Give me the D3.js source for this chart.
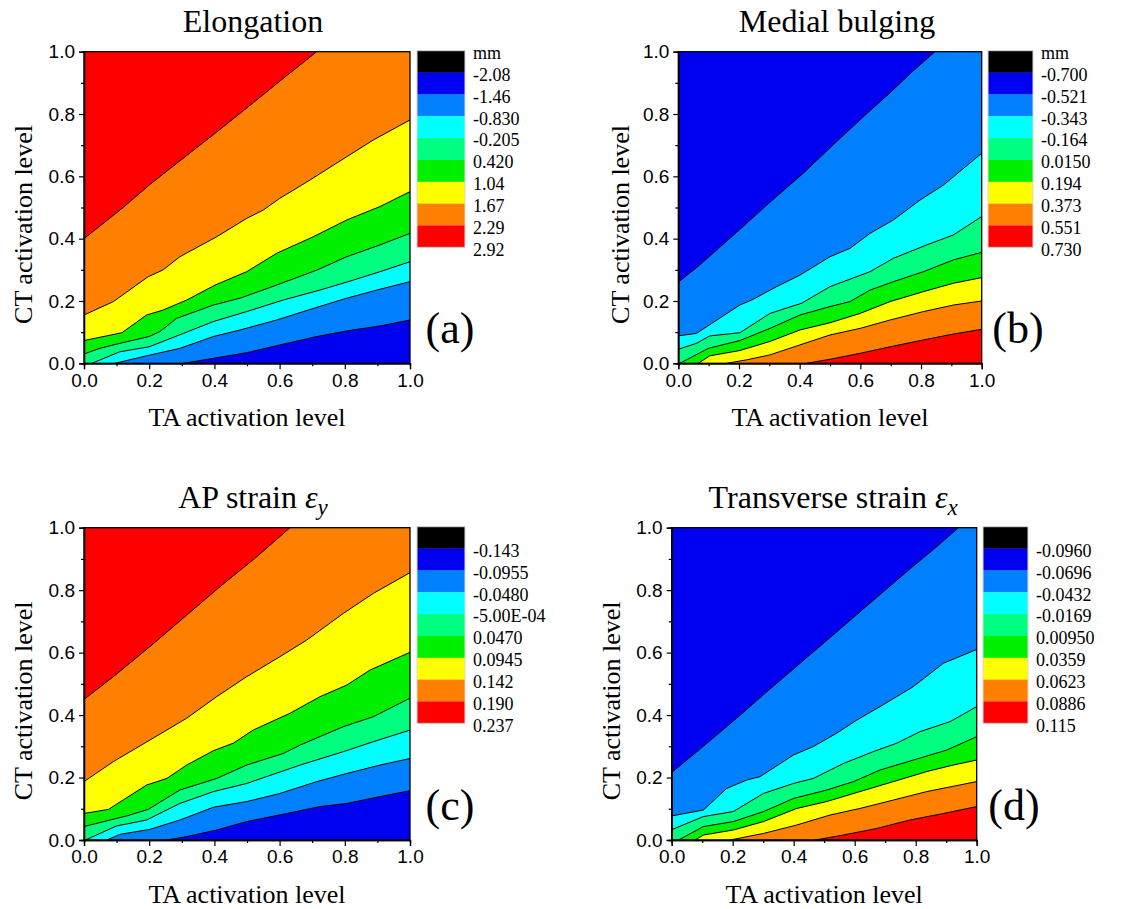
<!DOCTYPE html>
<html>
<head>
<meta charset="utf-8">
<script src="https://cdn.jsdelivr.net/npm/d3@7"></script>
<style>
  body { margin: 0; background: #fff; }
  svg { display: block; }
</style>
</head>
<body>
<svg id="chart" width="1134" height="909"></svg>
<script>
// contour boundaries, [TA, CT] pairs, listed from top-left band to bottom-right band
const elongationLines = [
  [[0,0.40],[0.12,0.50],[0.20,0.572],[0.315,0.667],[0.407,0.742],[0.50,0.82],[0.60,0.905],[0.714,1]],
  [[0,0.155],[0.09,0.198],[0.197,0.278],[0.243,0.30],[0.294,0.342],[0.407,0.406],[0.499,0.465],[0.55,0.492],[0.60,0.529],[0.693,0.588],[0.806,0.663],[0.888,0.717],[1,0.781]],
  [[0,0.073],[0.116,0.098],[0.192,0.155],[0.243,0.171],[0.315,0.203],[0.402,0.251],[0.499,0.294],[0.591,0.353],[0.703,0.406],[0.806,0.46],[0.908,0.503],[1,0.551]],
  [[0,0.030],[0.049,0.048],[0.11,0.064],[0.2,0.086],[0.233,0.102],[0.284,0.144],[0.397,0.187],[0.479,0.209],[0.591,0.251],[0.714,0.299],[0.806,0.342],[0.908,0.38],[1,0.417]],
  [[0.024,0],[0.11,0.037],[0.2,0.053],[0.305,0.096],[0.397,0.134],[0.499,0.166],[0.611,0.203],[0.724,0.235],[0.826,0.267],[0.908,0.294],[1,0.326]],
  [[0.095,0],[0.192,0.024],[0.294,0.048],[0.397,0.086],[0.479,0.107],[0.591,0.139],[0.703,0.176],[0.806,0.209],[0.898,0.235],[1,0.262]],
  [[0.305,0],[0.397,0.016],[0.499,0.034],[0.601,0.059],[0.714,0.086],[0.806,0.104],[0.908,0.12],[1,0.139]]
];
const bulgingLines = [
  [[0,0.26],[0.07,0.315],[0.192,0.42],[0.30,0.515],[0.412,0.61],[0.52,0.71],[0.62,0.80],[0.70,0.87],[0.77,0.935],[0.846,1]],
  [[0,0.088],[0.06,0.096],[0.11,0.128],[0.203,0.187],[0.242,0.203],[0.324,0.246],[0.401,0.283],[0.5,0.342],[0.566,0.369],[0.632,0.417],[0.709,0.46],[0.797,0.524],[0.874,0.572],[1,0.674]],
  [[0,0.045],[0.06,0.064],[0.104,0.088],[0.203,0.098],[0.302,0.16],[0.407,0.193],[0.5,0.246],[0.632,0.294],[0.709,0.337],[0.819,0.38],[0.907,0.412],[1,0.471]],
  [[0.005,0],[0.099,0.048],[0.203,0.073],[0.302,0.112],[0.401,0.155],[0.5,0.182],[0.566,0.198],[0.632,0.235],[0.709,0.262],[0.808,0.294],[0.907,0.332],[1,0.356]],
  [[0.066,0],[0.104,0.024],[0.203,0.041],[0.302,0.07],[0.401,0.107],[0.5,0.13],[0.599,0.16],[0.698,0.198],[0.808,0.23],[0.907,0.257],[1,0.275]],
  [[0.159,0],[0.225,0.011],[0.302,0.027],[0.401,0.059],[0.5,0.091],[0.599,0.112],[0.698,0.139],[0.808,0.166],[0.907,0.187],[1,0.2]],
  [[0.423,0],[0.5,0.013],[0.599,0.032],[0.698,0.053],[0.808,0.075],[0.907,0.094],[1,0.109]]
];
const apStrainLines = [
  [[0,0.45],[0.09,0.523],[0.202,0.619],[0.315,0.72],[0.417,0.811],[0.53,0.907],[0.632,1]],
  [[0,0.187],[0.09,0.251],[0.202,0.32],[0.315,0.39],[0.407,0.459],[0.499,0.523],[0.601,0.587],[0.683,0.64],[0.796,0.726],[0.888,0.79],[1,0.856]],
  [[0,0.085],[0.075,0.098],[0.12,0.128],[0.192,0.176],[0.254,0.197],[0.315,0.24],[0.397,0.286],[0.458,0.31],[0.519,0.352],[0.632,0.406],[0.724,0.459],[0.806,0.496],[0.877,0.544],[1,0.601]],
  [[0,0.043],[0.08,0.064],[0.131,0.077],[0.197,0.098],[0.294,0.16],[0.407,0.197],[0.499,0.24],[0.611,0.277],[0.663,0.304],[0.796,0.363],[0.888,0.395],[1,0.454]],
  [[0.004,0],[0.1,0.045],[0.192,0.064],[0.294,0.117],[0.397,0.155],[0.499,0.181],[0.56,0.203],[0.663,0.24],[0.796,0.283],[0.888,0.315],[1,0.352]],
  [[0.07,0],[0.11,0.018],[0.202,0.034],[0.294,0.064],[0.397,0.105],[0.499,0.123],[0.601,0.149],[0.714,0.187],[0.806,0.213],[0.908,0.24],[1,0.261]],
  [[0.254,0],[0.315,0.011],[0.407,0.032],[0.499,0.059],[0.622,0.085],[0.724,0.107],[0.806,0.117],[0.908,0.139],[1,0.158]]
];
const transStrainLines = [
  [[0,0.216],[0.104,0.30],[0.213,0.39],[0.311,0.474],[0.421,0.566],[0.519,0.648],[0.607,0.722],[0.694,0.795],[0.781,0.868],[0.87,0.94],[0.94,1]],
  [[0,0.077],[0.104,0.096],[0.18,0.165],[0.246,0.192],[0.29,0.203],[0.399,0.272],[0.464,0.299],[0.541,0.342],[0.607,0.384],[0.683,0.427],[0.792,0.491],[0.891,0.566],[1,0.61]],
  [[0,0.033],[0.104,0.075],[0.202,0.091],[0.301,0.149],[0.399,0.181],[0.464,0.197],[0.563,0.245],[0.661,0.283],[0.738,0.31],[0.814,0.347],[0.913,0.379],[1,0.427]],
  [[0.022,0],[0.104,0.043],[0.202,0.059],[0.301,0.091],[0.399,0.133],[0.508,0.16],[0.596,0.187],[0.683,0.224],[0.792,0.256],[0.902,0.288],[1,0.331]],
  [[0.077,0],[0.104,0.016],[0.202,0.032],[0.301,0.059],[0.41,0.101],[0.508,0.123],[0.617,0.155],[0.727,0.187],[0.836,0.219],[0.923,0.24],[1,0.256]],
  [[0.191,0],[0.301,0.021],[0.41,0.048],[0.519,0.08],[0.617,0.101],[0.727,0.128],[0.836,0.155],[1,0.187]],
  [[0.47,0],[0.563,0.016],[0.672,0.037],[0.781,0.064],[0.891,0.085],[1,0.107]]
];

// colour scale labels (low to high)
const elongationLevels = ["-2.08","-1.46","-0.830","-0.205","0.420","1.04","1.67","2.29","2.92"];
const bulgingLevels = ["-0.700","-0.521","-0.343","-0.164","0.0150","0.194","0.373","0.551","0.730"];
const apStrainLevels = ["-0.143","-0.0955","-0.0480","-5.00E-04","0.0470","0.0945","0.142","0.190","0.237"];
const transStrainLevels = ["-0.0960","-0.0696","-0.0432","-0.0169","0.00950","0.0359","0.0623","0.0886","0.115"];

const majorTicks = [0, 0.2, 0.4, 0.6, 0.8, 1.0];
const minorTicks = [0.1, 0.3, 0.5, 0.7, 0.9];

const palette = ["#000000","#0000f0","#0080ff","#00ffff","#00ff80","#00f000","#ffff00","#ff8000","#ff0000"];

const serif = "'Liberation Serif', 'Times New Roman', serif";
const sans = "'Liberation Sans', Arial, sans-serif";

const panels = [
  { lines: elongationLines, levels: elongationLevels, unit: "mm", hiTopLeft: true,
    title: "Elongation", sub: null, tag: "(a)",
    x0: 84, x1: 410, y0: 51.7, y1: 363.3, legX: 417, legW: 48, yTitleX: 32, tagX: 450, titleDx: 6 },
  { lines: bulgingLines, levels: bulgingLevels, unit: "mm", hiTopLeft: false,
    title: "Medial bulging", sub: null, tag: "(b)",
    x0: 678.3, x1: 981.7, y0: 51.7, y1: 363.3, legX: 988, legW: 45, yTitleX: 629, tagX: 1018, titleDx: 7 },
  { lines: apStrainLines, levels: apStrainLevels, unit: null, hiTopLeft: true,
    title: "AP strain ", sub: "y", tag: "(c)",
    x0: 84, x1: 410, y0: 527.7, y1: 840, legX: 417, legW: 48, yTitleX: 32, tagX: 450, titleDx: 6 },
  { lines: transStrainLines, levels: transStrainLevels, unit: null, hiTopLeft: false,
    title: "Transverse strain ", sub: "x", tag: "(d)",
    x0: 671.7, x1: 976.7, y0: 527.7, y1: 840, legX: 983, legW: 45, yTitleX: 620, tagX: 1014, titleDx: 9 }
];

const svg = d3.select("#chart");
svg.append("rect").attr("width", 1134).attr("height", 909).attr("fill", "#fff");

function regionPoly(pts) {
  const p = pts.slice();
  if (p[0][1] === 0 && p[0][0] > 0) p.unshift([0, 0]);
  const last = p[p.length - 1];
  if (last[0] === 1 && last[1] < 1) p.push([1, 1]);
  p.push([0, 1]);
  return p;
}

panels.forEach((pn, k) => {
  const x = d3.scaleLinear().domain([0, 1]).range([pn.x0, pn.x1]);
  const y = d3.scaleLinear().domain([0, 1]).range([pn.y1, pn.y0]);
  const line = d3.line().x(d => x(d[0])).y(d => y(d[1]));
  const g = svg.append("g");

  const clipId = "clip" + k;
  svg.append("clipPath").attr("id", clipId)
    .append("rect").attr("x", pn.x0).attr("y", pn.y0)
    .attr("width", pn.x1 - pn.x0).attr("height", pn.y1 - pn.y0);
  const plot = g.append("g").attr("clip-path", `url(#${clipId})`);

  // base band (bottom-right), then paint each band above-left of its boundary
  const n = pn.lines.length;
  const colorFor = i => pn.hiTopLeft ? palette[8 - i] : palette[i + 1];
  plot.append("path")
    .attr("d", line([[0,0],[1,0],[1,1],[0,1]]) + "Z")
    .attr("fill", pn.hiTopLeft ? palette[1] : palette[8]);
  for (let i = n - 1; i >= 0; i--) {
    plot.append("path")
      .attr("d", line(regionPoly(pn.lines[i])) + "Z")
      .attr("fill", colorFor(i));
  }
  pn.lines.forEach(l => {
    plot.append("path").attr("d", line(l))
      .attr("fill", "none").attr("stroke", "#000").attr("stroke-width", 1);
  });

  // frame
  g.append("rect").attr("x", pn.x0).attr("y", pn.y0)
    .attr("width", pn.x1 - pn.x0).attr("height", pn.y1 - pn.y0)
    .attr("fill", "none").attr("stroke", "#000").attr("stroke-width", 1.3);

  // axes
  g.append("g").attr("transform", `translate(0,${pn.y1})`)
    .call(d3.axisBottom(x).tickValues(majorTicks).tickFormat(d3.format(".1f")).tickSize(6).tickPadding(4));
  g.append("g").attr("transform", `translate(0,${pn.y1})`)
    .call(d3.axisBottom(x).tickValues(minorTicks).tickFormat("").tickSize(3));
  g.append("g").attr("transform", `translate(${pn.x0},0)`)
    .call(d3.axisLeft(y).tickValues(majorTicks).tickFormat(d3.format(".1f")).tickSize(5).tickPadding(4));
  g.append("g").attr("transform", `translate(${pn.x0},0)`)
    .call(d3.axisLeft(y).tickValues(minorTicks).tickFormat("").tickSize(3));
  g.selectAll(".domain").attr("stroke", "#000").attr("stroke-width", 1.3);
  g.selectAll(".tick line").attr("stroke", "#000").attr("stroke-width", 1.2);
  g.selectAll(".tick text").attr("font-family", sans).attr("font-size", 19).attr("fill", "#000");

  // titles
  const cx = (pn.x0 + pn.x1) / 2;
  const t = g.append("text").attr("x", cx + pn.titleDx).attr("y", pn.y0 - 20)
    .attr("text-anchor", "middle").attr("font-family", serif).attr("font-size", 32)
    .text(pn.title);
  if (pn.sub) {
    t.append("tspan").attr("font-style", "italic").text("\u03b5");
    t.append("tspan").attr("font-style", "italic").attr("font-size", 23).attr("dy", 7).text(pn.sub);
  }
  g.append("text").attr("x", cx).attr("y", pn.y1 + 63)
    .attr("text-anchor", "middle").attr("font-family", serif).attr("font-size", 26)
    .text("TA activation level");
  g.append("text")
    .attr("transform", `translate(${pn.yTitleX},${(pn.y0 + pn.y1) / 2 + 17}) rotate(-90)`)
    .attr("text-anchor", "middle").attr("font-family", serif).attr("font-size", 26)
    .text("CT activation level");
  g.append("text").attr("x", pn.tagX).attr("y", pn.y1 - 20)
    .attr("text-anchor", "middle").attr("font-family", serif).attr("font-size", 44)
    .text(pn.tag);

  // colour scale
  const legTop = pn.y0 - 1, bandH = 21.85;
  const leg = g.append("g");
  palette.forEach((c, i) => {
    leg.append("rect").attr("x", pn.legX).attr("y", legTop + i * bandH)
      .attr("width", pn.legW).attr("height", bandH + 0.3).attr("fill", c);
  });
  leg.append("rect").attr("x", pn.legX).attr("y", legTop)
    .attr("width", pn.legW).attr("height", bandH * 9)
    .attr("fill", "none").attr("stroke", "#d8d8d8").attr("stroke-width", 1);
  const labels = [pn.unit].concat(pn.levels);
  labels.forEach((lab, i) => {
    if (lab === null) return;
    leg.append("text").attr("x", pn.legX + pn.legW + 8).attr("y", legTop + i * bandH + 2)
      .attr("dy", "0.35em").attr("font-family", serif).attr("font-size", 18)
      .text(lab);
  });
});
</script>
</body>
</html>
